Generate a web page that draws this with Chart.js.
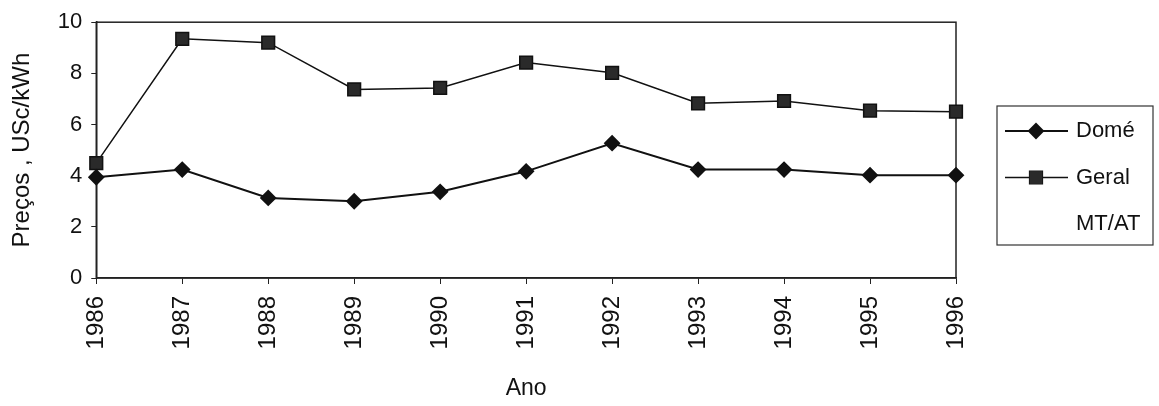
<!DOCTYPE html>
<html>
<head>
<meta charset="utf-8">
<script src="https://cdn.jsdelivr.net/npm/chart.js@4"></script>
<style>
  html, body { margin: 0; padding: 0; background: #fff; }
  #wrap { width: 1159px; height: 406px; position: relative; }
</style>
</head>
<body>
<div id="wrap"><canvas id="precos_chart"></canvas></div>
<script>
// valores (USc/kWh)
const anos = ['1986', '1987', '1988', '1989', '1990', '1991', '1992', '1993', '1994', '1995', '1996'];
const dome = [3.94, 4.24, 3.13, 3.00, 3.37, 4.17, 5.27, 4.24, 4.24, 4.02, 4.02];
const geral = [4.49, 9.35, 9.20, 7.37, 7.43, 8.42, 8.02, 6.83, 6.92, 6.54, 6.50];
const seriesNames = ['Domé', 'Geral MT/AT'];
const yMin = 0, yMax = 10, yStep = 2;

const fontFamily = 'Arial, "Liberation Sans", sans-serif';
const ink = '#111';

// moldura à volta da área do gráfico
const frame = {
    id: 'frame',
    beforeDatasetsDraw(chart) {
        const a = chart.chartArea, ctx = chart.ctx;
        ctx.save();
        ctx.strokeStyle = '#222';
        ctx.lineWidth = 1.5;
        ctx.strokeRect(a.left, a.top, a.right - a.left, a.bottom - a.top);
        ctx.restore();
    }
};

// legenda em caixa, à direita
const boxLegend = {
    id: 'boxLegend',
    afterDraw(chart) {
        const ctx = chart.ctx;
        const x = chart.chartArea.right + 41, y = 106, w = 156, h = 139;
        ctx.save();
        ctx.strokeStyle = '#333';
        ctx.lineWidth = 1.2;
        ctx.strokeRect(x, y, w, h);
        ctx.font = '22px ' + fontFamily;
        ctx.fillStyle = ink;
        ctx.textBaseline = 'middle';
        let rowY = y + 25;
        chart.data.datasets.forEach(function (ds) {
            const words = ds.label.split(' ');
            ctx.strokeStyle = ds.borderColor;
            ctx.lineWidth = ds.borderWidth;
            ctx.beginPath();
            ctx.moveTo(x + 8, rowY);
            ctx.lineTo(x + 71, rowY);
            ctx.stroke();
            Chart.helpers.drawPoint(ctx, {
                pointStyle: ds.pointStyle, radius: ds.pointRadius, borderWidth: 1
            }, x + 39, rowY);
            ctx.fillStyle = ds.pointBackgroundColor;
            ctx.fill();
            ctx.fillStyle = ink;
            words.forEach(function (word) {
                ctx.fillText(word, x + 79, rowY);
                rowY += 46.5;
            });
        });
        ctx.restore();
    }
};

new Chart(document.getElementById('precos_chart'), {
    type: 'line',
    data: {
        labels: anos,
        datasets: [{
            label: seriesNames[0],
            data: dome,
            borderColor: '#111',
            borderWidth: 2,
            pointStyle: 'rectRot',
            pointRadius: 7,
            pointBackgroundColor: '#111',
            pointBorderColor: '#111',
            tension: 0
        }, {
            label: seriesNames[1],
            data: geral,
            borderColor: '#111',
            borderWidth: 1.5,
            pointStyle: 'rect',
            pointRadius: 9,
            pointBackgroundColor: '#2a2a2a',
            pointBorderColor: '#111',
            tension: 0
        }]
    },
    options: {
        responsive: true,
        maintainAspectRatio: false,
        animation: false,
        layout: { padding: { top: 12, right: 203, bottom: 4, left: 8 } },
        plugins: {
            legend: { display: false },
            tooltip: { enabled: false }
        },
        scales: {
            x: {
                offset: false,
                grid: { display: true, drawOnChartArea: false, tickLength: 6, color: '#222' },
                border: { color: '#222', width: 1.5 },
                ticks: {
                    minRotation: 90, maxRotation: 90, autoSkip: false,
                    color: ink, padding: 12,
                    font: { family: fontFamily, size: 24 }
                },
                title: {
                    display: true, text: 'Ano', color: ink,
                    font: { family: fontFamily, size: 23 },
                    padding: { top: 13, bottom: 0 }
                }
            },
            y: {
                min: yMin, max: yMax,
                grid: { display: true, drawOnChartArea: false, tickLength: 5, color: '#222' },
                border: { color: '#222', width: 1.5 },
                ticks: {
                    stepSize: yStep, color: ink, padding: 9,
                    font: { family: fontFamily, size: 22 }
                },
                title: {
                    display: true, text: 'Preços , USc/kWh', color: ink,
                    font: { family: fontFamily, size: 24 },
                    padding: { top: 0, bottom: 12 }
                }
            }
        }
    },
    plugins: [frame, boxLegend]
});
</script>
</body>
</html>
